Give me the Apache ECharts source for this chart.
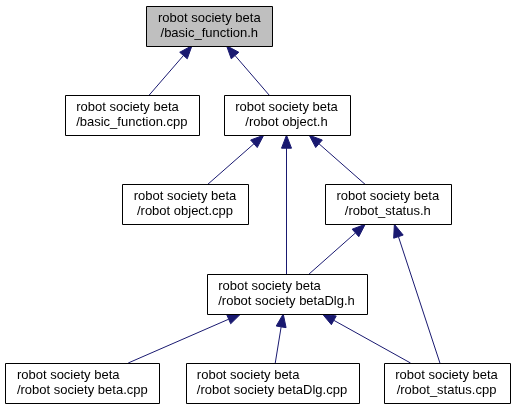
<!DOCTYPE html>
<html><head><meta charset="utf-8">
<script src="https://cdn.jsdelivr.net/npm/echarts@6/dist/echarts.min.js"></script>
<style>html,body{margin:0;padding:0;background:#fff}#c{width:515px;height:409px}</style>
</head><body><div id="c"></div>
<script>
// Node labels (directory line, file line)
const nodeDir = ['robot society beta','robot society beta','robot society beta','robot society beta','robot society beta','robot society beta','robot society beta','robot society beta','robot society beta'];
const nodeFile = ['/basic_function.h','/basic_function.cpp','/robot object.h','/robot object.cpp','/robot_status.h','/robot society betaDlg.h','/robot society beta.cpp','/robot society betaDlg.cpp','/robot_status.cpp'];
// Node layout (centres)
const nodeX = [209.3,131.8,286.5,185,387.8,286.5,82.3,272,446.5];
const nodeY = [25.7,115.2,115.2,204.3,204.3,294,383,383,383];
const highlighted = [true,false,false,false,false,false,false,false,false];
// Include edges: child (includer) -> parent (included)
const edgeFrom = [1,2,3,5,4,5,8,6,7,8];
const edgeTo   = [0,0,2,2,2,4,4,5,5,5];

const FONT = '13px "Liberation Sans", Arial, sans-serif';
const cv = document.createElement('canvas').getContext('2d');
cv.font = FONT;
const tw = s => cv.measureText(s).width;
const textW = nodeDir.map((d,i) => Math.max(tw(d), tw(nodeFile[i])));
const boxW = textW.map(w => Math.round(w + 23));
const BOX_H = 40;

const chart = echarts.init(document.getElementById('c'), null, {renderer:'canvas'});

function clipT(dx, dy, hw, hh){
  const tx = Math.abs(dx) > 1e-9 ? hw/Math.abs(dx) : Infinity;
  const ty = Math.abs(dy) > 1e-9 ? hh/Math.abs(dy) : Infinity;
  return Math.min(tx, ty);
}

chart.setOption({
  animation:false,
  grid:{left:0,right:0,top:0,bottom:0},
  xAxis:{type:'value',min:0,max:515,show:false},
  yAxis:{type:'value',min:0,max:409,inverse:true,show:false},
  series:[
    {
      type:'custom',
      coordinateSystem:'cartesian2d',
      data: edgeFrom.map((f,i)=>[nodeX[f],nodeY[f],nodeX[edgeTo[i]],nodeY[edgeTo[i]],f,edgeTo[i]]),
      encode:{x:[0,2],y:[1,3]},
      renderItem:function(params, api){
        const f = api.value(4), t = api.value(5);
        const a = api.coord([api.value(0), api.value(1)]);
        const b = api.coord([api.value(2), api.value(3)]);
        const dx = b[0]-a[0], dy = b[1]-a[1];
        const t0 = clipT(dx,dy,boxW[f]/2,BOX_H/2);
        const t1 = 1 - clipT(dx,dy,boxW[t]/2,BOX_H/2);
        const p0 = [a[0]+dx*t0, a[1]+dy*t0];
        const tip = [a[0]+dx*t1, a[1]+dy*t1];
        const len = Math.hypot(dx,dy);
        const ux = dx/len, uy = dy/len;
        const AL = 13, AW = 5;
        const base = [tip[0]-ux*AL, tip[1]-uy*AL];
        const nx = -uy, ny = ux;
        return {
          type:'group',
          children:[
            {type:'line',shape:{x1:p0[0],y1:p0[1],x2:base[0],y2:base[1]},style:{stroke:'#191970',lineWidth:1}},
            {type:'polygon',shape:{points:[tip,[base[0]+nx*AW,base[1]+ny*AW],[base[0]-nx*AW,base[1]-ny*AW]]},style:{fill:'#191970',stroke:'#191970',lineWidth:1}}
          ]
        };
      }
    },
    {
      type:'custom',
      coordinateSystem:'cartesian2d',
      data: nodeX.map((x,i)=>[x,nodeY[i],i]),
      encode:{x:0,y:1},
      renderItem:function(params, api){
        const i = api.value(2);
        const c = api.coord([api.value(0), api.value(1)]);
        const w = boxW[i], h = BOX_H;
        const x0 = Math.round(c[0]-w/2)+0.5, y0 = Math.round(c[1]-h/2)+0.5;
        const left = c[0] - textW[i]/2;
        return {
          type:'group',
          children:[
            {type:'rect',shape:{x:x0,y:y0,width:w,height:h},style:{fill:highlighted[i]?'#bfbfbf':'#ffffff',stroke:'#000000',lineWidth:1}},
            {type:'text',style:{x:left,y:c[1]-7.5,text:nodeDir[i],font:FONT,fill:'#000',align:'left',verticalAlign:'middle'}},
            {type:'text',style:{x:c[0],y:c[1]+7.5,text:nodeFile[i],font:FONT,fill:'#000',align:'center',verticalAlign:'middle'}}
          ]
        };
      }
    }
  ]
});
</script>
</body></html>
